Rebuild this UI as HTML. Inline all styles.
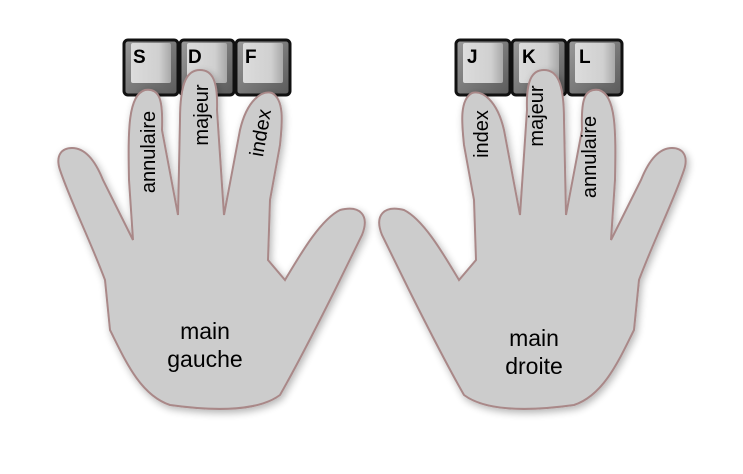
<!DOCTYPE html>
<html><head><meta charset="utf-8"><style>
html,body{margin:0;padding:0;background:#fff;}
svg{display:block;font-family:"Liberation Sans",sans-serif;}
</style></head><body>
<svg width="743" height="474" viewBox="0 0 743 474">
<defs>
<linearGradient id="kg" x1="0" y1="0" x2="1" y2="1"><stop offset="0" stop-color="#9a9a9a"/><stop offset="1" stop-color="#5a5a5a"/></linearGradient>
<linearGradient id="kt" x1="0" y1="0" x2="1" y2="0"><stop offset="0" stop-color="#dcdcdc"/><stop offset="0.7" stop-color="#d0d0d0"/><stop offset="1" stop-color="#a8a8a8"/></linearGradient>
<filter id="sh" x="-20%" y="-20%" width="140%" height="140%"><feGaussianBlur in="SourceAlpha" stdDeviation="4"/><feOffset dx="2" dy="3"/><feComponentTransfer><feFuncA type="linear" slope="0.3"/></feComponentTransfer><feMerge><feMergeNode/><feMergeNode in="SourceGraphic"/></feMerge></filter>
<g id="key"><rect x="0" y="0" width="54" height="55" rx="4" fill="url(#kg)" stroke="#111" stroke-width="3"/><rect x="7" y="3" width="40" height="40" rx="2" fill="url(#kt)"/></g>
<path id="hand" d="M133,240 L129,180 C128,130 128,95 145,90 C160,88 163,100 162,130 L178,215 L180,120 C180,80 188,70 200,70 C212,70 218,80 217,110 L224,215 L240,130 C247,100 262,90 272,93 C285,100 282,125 280,145 L270,200 L268,260 L285,280 C300,255 320,220 340,210 C360,205 370,215 362,235 L335,290 C320,320 300,360 280,395 C260,410 220,412 170,405 C140,395 125,360 110,330 L105,280 C90,240 70,200 60,170 C55,155 62,148 72,148 C85,148 95,160 103,180 Z" fill="#cccccc" stroke="#a98888" stroke-width="2"/>
</defs>
<g>
<use href="#key" x="124" y="40"/>
<use href="#key" x="180" y="40"/>
<use href="#key" x="236" y="40"/>
<text x="133" y="63" font-size="19" font-weight="bold">S</text>
<text x="188" y="63" font-size="19" font-weight="bold">D</text>
<text x="245" y="63" font-size="19" font-weight="bold">F</text>
</g>
<g>
<use href="#key" x="456" y="40"/>
<use href="#key" x="512" y="40"/>
<use href="#key" x="568" y="40"/>
<text x="467" y="63" font-size="19" font-weight="bold">J</text>
<text x="522" y="63" font-size="19" font-weight="bold">K</text>
<text x="579" y="63" font-size="19" font-weight="bold">L</text>
</g>
<g filter="url(#sh)"><use href="#hand"/></g>
<g filter="url(#sh)"><use href="#hand" transform="translate(744,0) scale(-1,1)"/></g>
<g font-size="20" fill="#000" text-anchor="middle">
<text transform="translate(155,152) rotate(-90)">annulaire</text>
<text transform="translate(208,115) rotate(-90)">majeur</text>
<text transform="translate(267,134) rotate(-80)">index</text>
<text transform="translate(488,134) rotate(-90)">index</text>
<text transform="translate(543,116) rotate(-90)">majeur</text>
<text transform="translate(596,157) rotate(-90)">annulaire</text>
</g>
<g font-size="23" fill="#000" text-anchor="middle">
<text x="205" y="339">main</text>
<text x="205" y="367">gauche</text>
<text x="534" y="346">main</text>
<text x="534" y="374">droite</text>
</g>
</svg>
</body></html>
